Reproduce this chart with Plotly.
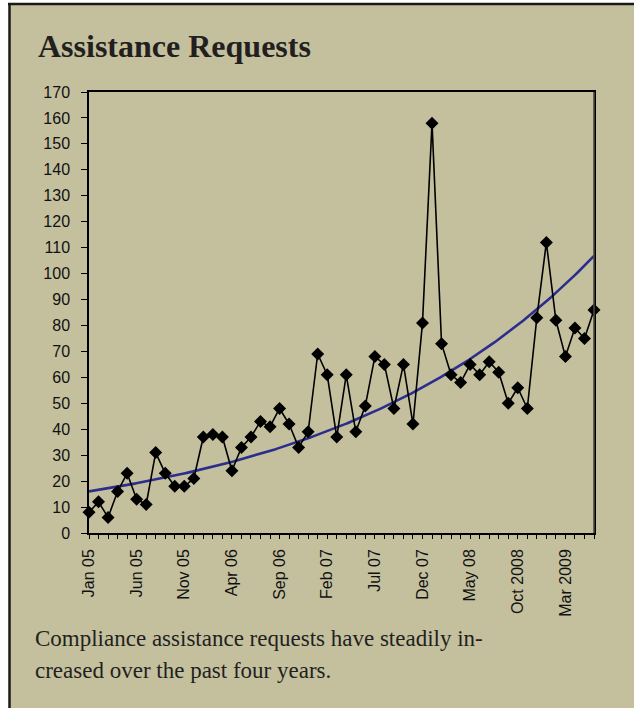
import numpy as np
import plotly.graph_objects as go

# ---- data ----
requests = [8, 12, 6, 16, 23, 13, 11, 31, 23, 18, 18, 21, 37, 38, 37, 24, 33, 37,
            43, 41, 48, 42, 33, 39, 69, 61, 37, 61, 39, 49, 68, 65, 48, 65, 42, 81,
            158, 73, 61, 58, 65, 61, 66, 62, 50, 56, 48, 83, 112, 82, 68, 79, 75, 86]
tick_labels = ["Jan 05", "Jun 05", "Nov 05", "Apr 06", "Sep 06", "Feb 07",
               "Jul 07", "Dec 07", "May 08", "Oct 2008", "Mar 2009"]
label_every = 5
title_text = "Assistance Requests"
caption_lines = ["Compliance assistance requests have steadily in-",
                 "creased over the past four years."]

n = len(requests)
x = np.arange(n)

# exponential trendline (least squares on log values, like Excel)
b, ln_a = np.polyfit(x, np.log(requests), 1)
xt = np.linspace(0, n - 1, 300)
yt = np.exp(ln_a) * np.exp(b * xt)

tickvals = list(range(n))
ticktext = [tick_labels[i // label_every] if i % label_every == 0 and i // label_every < len(tick_labels) else ""
            for i in range(n)]

W, H = 634, 708
L, R, T, B = 89, 594, 92, 533
pw, ph = R - L, B - T


def px(xp):
    return (xp - L) / pw


def py(yp):
    return (B - yp) / ph


BG = "#c4c09e"

fig = go.Figure()
fig.add_trace(go.Scatter(x=xt, y=yt, mode="lines",
                         line=dict(color="#2b2e8c", width=2.6),
                         hoverinfo="skip", showlegend=False))
fig.add_trace(go.Scatter(x=x, y=requests, mode="lines+markers",
                         line=dict(color="#000000", width=1.6),
                         marker=dict(symbol="diamond", size=10, color="#000000"),
                         cliponaxis=False, showlegend=False))

fig.update_layout(
    width=W, height=H,
    margin=dict(l=L, r=W - R, t=T, b=H - B, pad=0),
    paper_bgcolor="white",
    plot_bgcolor=BG,
    font=dict(family="Liberation Sans, Arial", size=16, color="#111111"),
    xaxis=dict(range=[0, n - 1], tickmode="array", tickvals=tickvals, ticktext=ticktext,
               tickangle=-90, ticks="outside", ticklen=4, tickwidth=1, tickcolor="#000",
               showline=True, linecolor="#000", linewidth=1.5, mirror=True,
               showgrid=False, zeroline=False, tickfont=dict(size=16),
               ticklabelstandoff=4),
    yaxis=dict(range=[0, 170], dtick=10, ticks="outside", ticklen=6, tickwidth=1,
               tickcolor="#000", showline=True, linecolor="#000", linewidth=1.5,
               mirror=True, showgrid=False, zeroline=False, tickfont=dict(size=16),
               ticklabelstandoff=8),
    shapes=[
        dict(type="rect", xref="paper", yref="paper", x0=px(9), x1=px(640), y0=py(715), y1=py(4),
             fillcolor=BG, line=dict(width=0), layer="below"),
        dict(type="line", xref="paper", yref="paper", x0=px(9.5), x1=px(9.5), y0=py(720), y1=py(3),
             line=dict(color="#1a1a1a", width=2.5)),
        dict(type="line", xref="paper", yref="paper", x0=px(8), x1=px(640), y0=py(4), y1=py(4),
             line=dict(color="#1a1a1a", width=2.5)),
        dict(type="line", xref="paper", yref="paper", x0=1, x1=1, y0=0, y1=1,
             line=dict(color="#4a4a40", width=1.6)),
    ],
    annotations=[
        dict(text="<b>" + title_text + "</b>", xref="paper", yref="paper",
             x=px(36), y=py(46), xanchor="left", yanchor="middle", showarrow=False,
             font=dict(family="Liberation Serif, Times New Roman", size=32, color="#231f20")),
        dict(text=caption_lines[0], xref="paper", yref="paper",
             x=px(33), y=py(638), xanchor="left", yanchor="middle", showarrow=False,
             font=dict(family="Liberation Serif, Times New Roman", size=23, color="#231f20")),
        dict(text=caption_lines[1], xref="paper", yref="paper",
             x=px(33), y=py(670), xanchor="left", yanchor="middle", showarrow=False,
             font=dict(family="Liberation Serif, Times New Roman", size=23, color="#231f20")),
    ],
)

fig.write_html("out.html", config={"displayModeBar": False},
               post_script="document.body.style.margin='0';document.body.style.overflow='hidden';")
